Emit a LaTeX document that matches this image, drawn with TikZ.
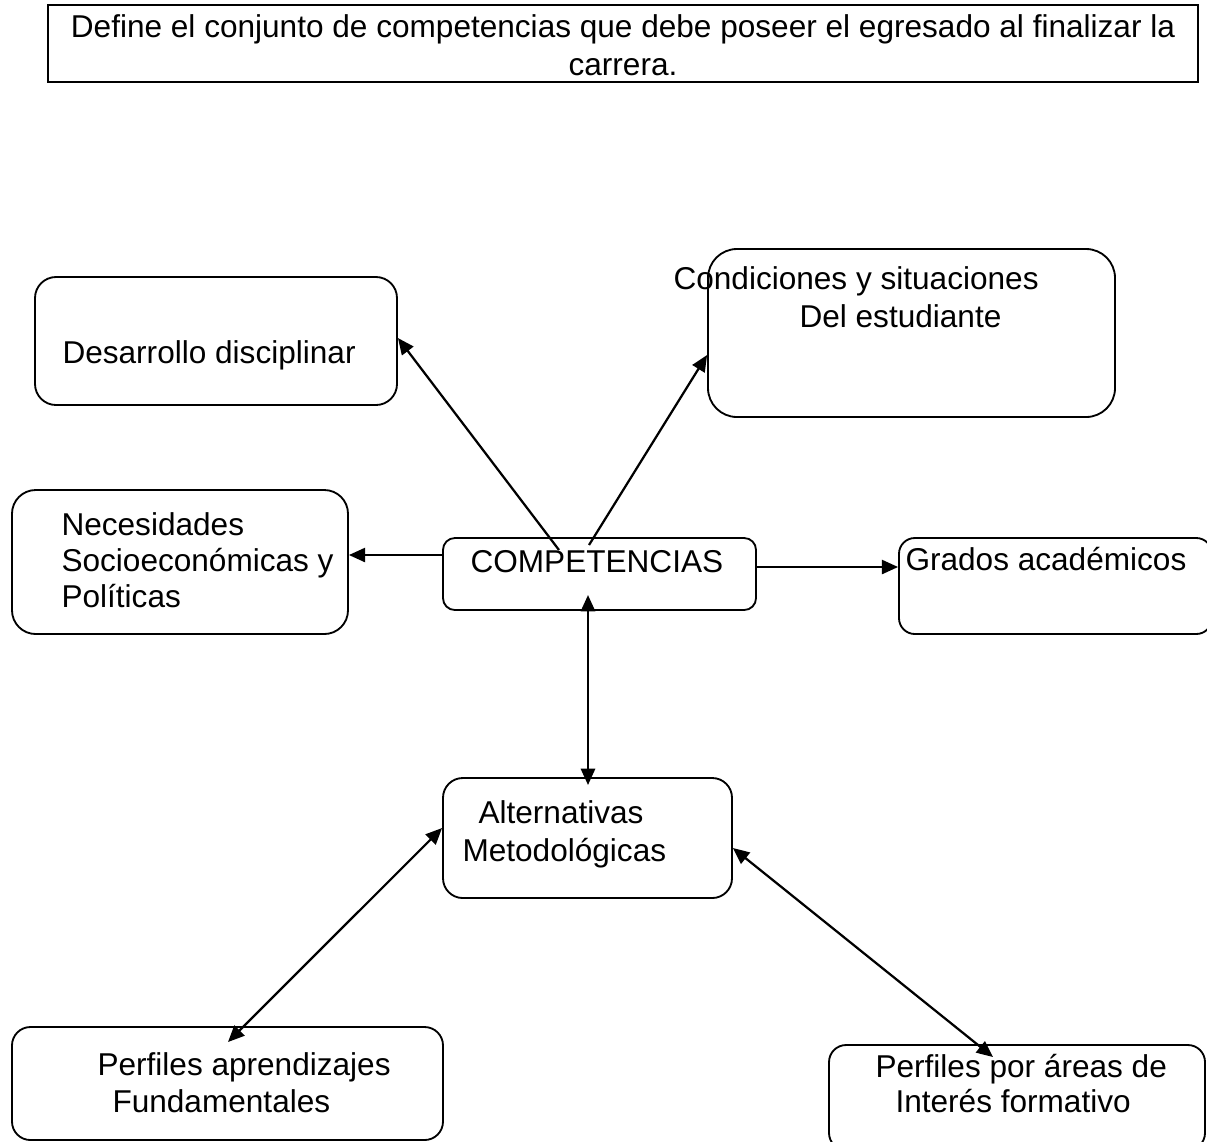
\documentclass[tikz,border=0pt]{standalone}
\usepackage{fontspec}
\setmainfont{Liberation Sans}
\usetikzlibrary{arrows.meta,fit}

\begin{document}
\begin{tikzpicture}[x=0.38pt, y=-0.38pt,
    box/.style={draw, line width=0.7pt, inner sep=0pt, fit={#1}},
    txt/.style={inner sep=0pt, anchor=base west, font=\fontsize{12}{14.3}\selectfont},
    arr/.style={line width=0.85pt, -{Triangle[length=6.2pt,width=5.4pt]}},
    darr/.style={line width=0.85pt, {Triangle[length=6.2pt,width=5.4pt]}-{Triangle[length=6.2pt,width=5.4pt]}}]
  \useasboundingbox (0,0) rectangle (1207,1141);
  % cajas
  \node[box={(48,5) (1198,82)}] (def) {};
  \node[box={(35,277) (397,405)}, rounded corners=8pt] (des) {};
  \node[box={(708,249) (1115,417)}, rounded corners=11pt] (con) {};
  \node[box={(12,490) (348,634)}, rounded corners=9pt] (nec) {};
  \node[box={(443,538) (756,610)}, rounded corners=4.5pt] (comp) {};
  \node[box={(899,538) (1212,634)}, rounded corners=6pt] (gra) {};
  \node[box={(443,778) (732,898)}, rounded corners=7.5pt] (alt) {};
  \node[box={(12,1027) (443,1140)}, rounded corners=7pt] (pfa) {};
  \node[box={(829,1045) (1205,1150)}, rounded corners=6.5pt] (pfb) {};
  % textos
  \node[txt, anchor=base] (defA) at (623,37) {Define el conjunto de competencias que debe poseer el egresado al finalizar la};
  \node[txt, anchor=base] (defB) at (623,75) {carrera.};
  \node[txt] (desA) at (62,363) {Desarrollo disciplinar};
  \node[txt] (conA) at (673,289) {Condiciones y situaciones};
  \node[txt] (conB) at (799,327) {Del estudiante};
  \node[txt] (necA) at (61,535) {Necesidades};
  \node[txt] (necB) at (61,571) {Socioeconómicas y};
  \node[txt] (necC) at (61,607) {Políticas};
  \node[txt] (compA) at (470,572) {COMPETENCIAS};
  \node[txt] (graA) at (905,570) {Grados académicos};
  \node[txt] (altA) at (478,823) {Alternativas};
  \node[txt] (altB) at (462,861) {Metodológicas};
  \node[txt] (pfaA) at (97,1075) {Perfiles aprendizajes};
  \node[txt] (pfaB) at (112,1112) {Fundamentales};
  \node[txt] (pfbA) at (875,1077) {Perfiles por áreas de};
  \node[txt] (pfbB) at (895,1112) {Interés formativo};
  % puntos de salida y llegada
  \coordinate (compL) at (559,550);
  \coordinate (compR) at (589,545);
  \coordinate (compB) at (588,595);
  \coordinate (altT) at (588,785);
  \coordinate (pfaT) at (228,1042);
  \coordinate (pfbT) at (993,1057);
  % flechas
  \draw[arr] (compL) -- (des.east |- 0,338);
  \draw[arr] (compR) -- (con.west |- 0,355);
  \draw[arr] (comp.west |- 0,555) -- (nec.east |- 0,555);
  \draw[arr] (comp.east |- 0,567) -- (gra.west |- 0,567);
  \draw[darr] (compB) -- (altT);
  \draw[darr] (alt.west |- 0,828) -- (pfaT);
  \draw[darr] (alt.east |- 0,848) -- (pfbT);
\end{tikzpicture}
\end{document}
